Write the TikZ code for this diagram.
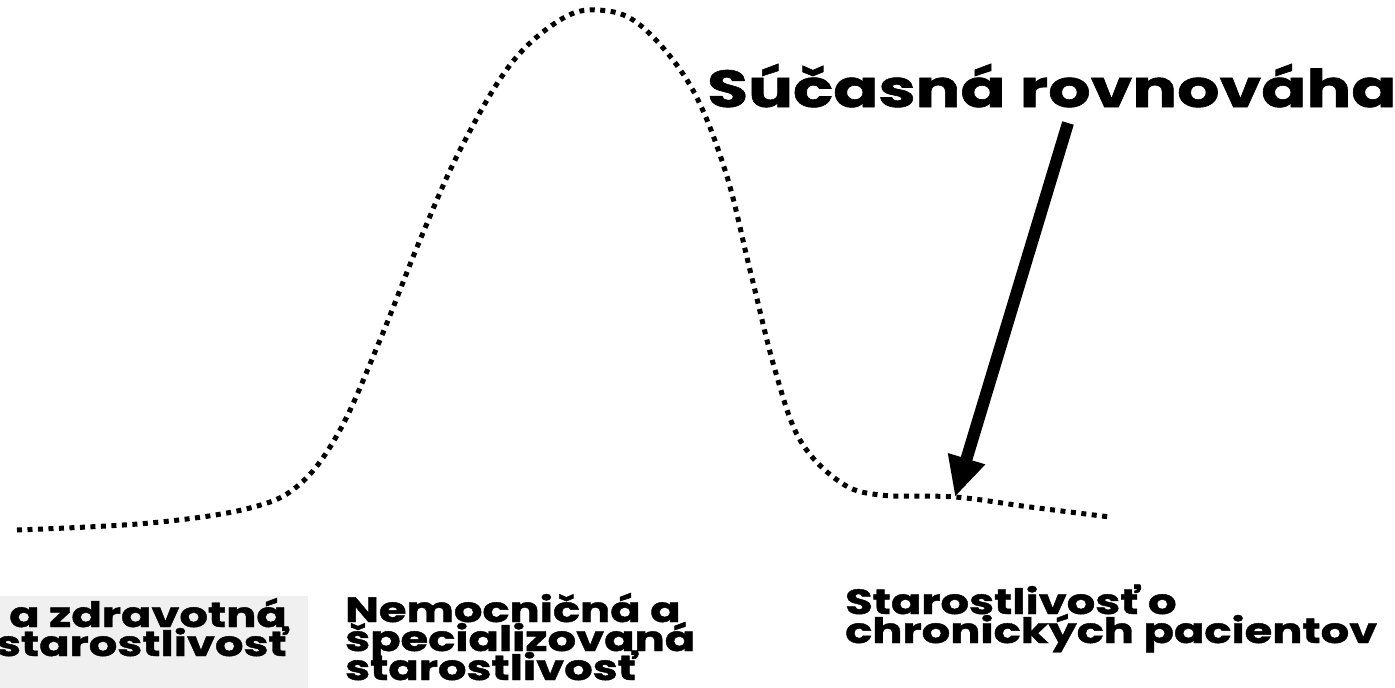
\documentclass[tikz,border=0pt]{standalone}
\usepackage{fontspec}
\newfontfamily\disp{Poppins}[FakeStretch=1.28,BoldFeatures={FakeBold=1.2}]
\usetikzlibrary{arrows.meta}
\newcommand\mytightlines{\lineskiplimit=-100pt\relax\lineskip=0pt\relax}
\begin{document}
\begin{tikzpicture}[x=1pt,y=-1pt,
  curve/.style={line width=5pt,dash pattern=on 5pt off 5.5pt},
  label/.style={inner sep=0pt,font={\disp\bfseries\fontsize{35}{29}\selectfont\mytightlines}},
  title/.style={inner sep=0pt,font=\disp\bfseries\fontsize{52}{56}\selectfont},
  bigarrow/.style={line width=12pt,-{Triangle[length=40pt,width=36pt]}}]
\useasboundingbox (0,0) rectangle (1395,688);
\fill[black!6] (0,596) rectangle (308,688);
\draw[curve] plot[smooth,tension=0.6] coordinates {(17,530) (150,523) (250,508) (300,484) (340,430) (380,340) (420,240) (460,150) (510,65) (560,20) (598,10) (640,25) (690,85) (725,170) (750,270) (775,370) (800,440) (840,482) (880,495) (955,497) (1030,507) (1110,517)};
\node[title,anchor=base west] (t) at (707,107) {Súčasná rovnováha};
\coordinate (a1) at (1068,123);
\coordinate (a2) at (955,497);
\draw[bigarrow] (a1) -- (a2);
\node[label,anchor=base east,align=right] (l1) at (287,656) {a zdravotná\\starostlivosť};
\node[label,anchor=base west,align=left] (l2) at (345,680) {Nemocničná a\\špecializovaná\\starostlivosť};
\node[label,anchor=base west,align=left] (l3) at (845,643) {Starostlivosť o\\chronických pacientov};
\end{tikzpicture}
\end{document}
